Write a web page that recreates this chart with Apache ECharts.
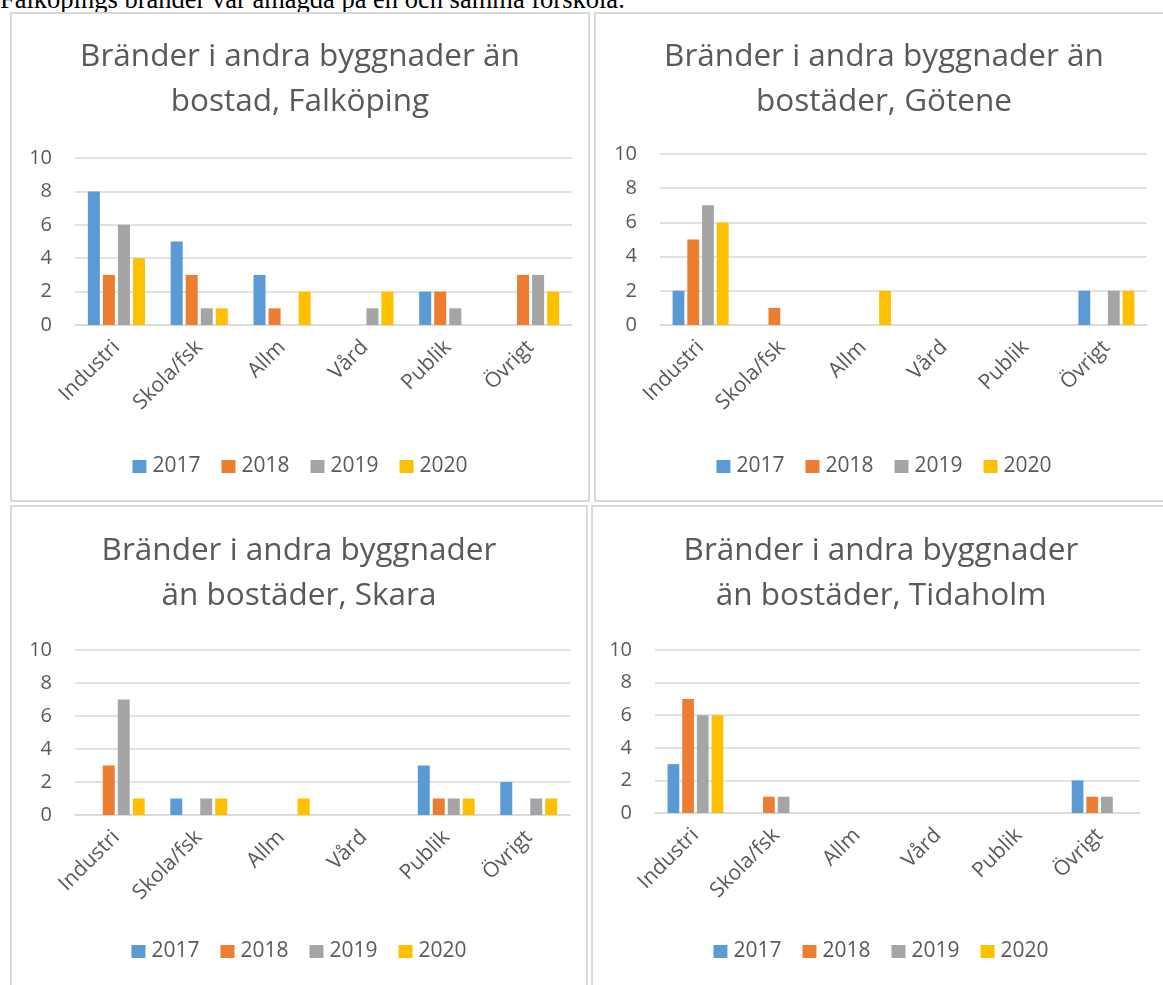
<!DOCTYPE html>
<html>
<head>
	<meta charset="utf-8">
	<title>Bränder i andra byggnader än bostäder</title>
	<script src="https://cdn.jsdelivr.net/npm/echarts@6/dist/echarts.min.js"></script>
	<style>
		body { margin: 0; background: #fff; width: 1163px; height: 985px; overflow: hidden; position: relative; }
		.intro { position: absolute; left: 0; top: -14px; font-family: "Liberation Serif", serif; font-size: 26.5px; line-height: 1; color: #000; white-space: nowrap; }
		.panel { position: absolute; border: 2px solid #d9d9d9; box-sizing: border-box; background: #fff; }
		.chart { width: 100%; height: 100%; }
	</style>
</head>
<body>
	<div class="intro">Falköpings bränder var amagda på en och samma förskola.</div>

	<div class="panel" style="left:10px;top:12px;width:580px;height:490px;"><div class="chart" id="c_falkoping"></div></div>
	<div class="panel" style="left:594px;top:12px;width:580px;height:490px;"><div class="chart" id="c_gotene"></div></div>
	<div class="panel" style="left:10px;top:505px;width:578px;height:490px;"><div class="chart" id="c_skara"></div></div>
	<div class="panel" style="left:591px;top:505px;width:580px;height:490px;"><div class="chart" id="c_tidaholm"></div></div>

	<script>
		var categories = ['Industri', 'Skola/fsk', 'Allm', 'Vård', 'Publik', 'Övrigt'];
		var years = ['2017', '2018', '2019', '2020'];
		var colors = ['#5b9bd5', '#ed7d31', '#a5a5a5', '#ffc000'];

		// en rad per år: 2017, 2018, 2019, 2020
		var falkoping = [
			[8, 5, 3, 0, 2, 0],
			[3, 3, 1, 0, 2, 3],
			[6, 1, 0, 1, 1, 3],
			[4, 1, 2, 2, 0, 2]
		];
		var gotene = [
			[2, 0, 0, 0, 0, 2],
			[5, 1, 0, 0, 0, 0],
			[7, 0, 0, 0, 0, 2],
			[6, 0, 2, 0, 0, 2]
		];
		var skara = [
			[0, 1, 0, 0, 3, 2],
			[3, 0, 0, 0, 1, 0],
			[7, 1, 0, 0, 1, 1],
			[1, 1, 1, 0, 1, 1]
		];
		var tidaholm = [
			[3, 0, 0, 0, 0, 2],
			[7, 1, 0, 0, 0, 1],
			[6, 1, 0, 0, 0, 1],
			[6, 0, 0, 0, 0, 0]
		];

		var yMin = 0, yMax = 10, yStep = 2;

		var textColor = '#595959';
		var font = 'Open Sans';

		function drawChart(id, title, values, box) {
			var chart = echarts.init(document.getElementById(id));
			var series = [];
			for (var i = 0; i < years.length; i++) {
				series.push({
					name: years[i],
					type: 'bar',
					data: values[i],
					barGap: '25%',
					barCategoryGap: '31%',
					itemStyle: { color: colors[i] }
				});
			}
			chart.setOption({
				animation: false,
				textStyle: { fontFamily: font },
				title: {
					text: title,
					left: 'center',
					top: box.titleTop,
					padding: 0,
					textStyle: { fontFamily: font, fontWeight: 'normal', fontSize: 31.5, lineHeight: 45, color: textColor }
				},
				legend: {
					data: years,
					top: box.legendTop,
					left: 'center',
					padding: 0,
					itemWidth: 14,
					itemHeight: 13,
					itemGap: 21,
					icon: 'rect',
					textStyle: { fontFamily: font, fontSize: 21, color: textColor, padding: [0, 0, 0, 1] }
				},
				grid: {
					left: box.left,
					top: box.top,
					width: box.width,
					height: box.height
				},
				xAxis: {
					type: 'category',
					data: categories,
					axisLine: { lineStyle: { color: '#d9d9d9', width: 1.5 } },
					axisTick: { show: false },
					axisLabel: { rotate: 45, margin: 19, fontSize: 21, color: textColor, fontFamily: font }
				},
				yAxis: {
					type: 'value',
					min: yMin,
					max: yMax,
					interval: yStep,
					axisLine: { show: false },
					axisTick: { show: false },
					splitLine: { lineStyle: { color: '#d9d9d9', width: 1.5 } },
					axisLabel: { margin: 23, fontSize: 20, color: textColor, fontFamily: font }
				},
				series: series
			});
		}

		drawChart('c_falkoping', 'Bränder i andra byggnader än\nbostad, Falköping', falkoping,
			{ titleTop: 21, legendTop: 442, left: 63, top: 144, width: 497, height: 167 });
		drawChart('c_gotene', 'Bränder i andra byggnader än\nbostäder, Götene', gotene,
			{ titleTop: 21, legendTop: 442, left: 64, top: 140, width: 487, height: 171 });
		drawChart('c_skara', 'Bränder i andra byggnader\nän bostäder, Skara', skara,
			{ titleTop: 22, legendTop: 434, left: 63, top: 143, width: 495, height: 165 });
		drawChart('c_tidaholm', 'Bränder i andra byggnader\nän bostäder, Tidaholm', tidaholm,
			{ titleTop: 22, legendTop: 434, left: 62, top: 143, width: 485, height: 163 });
	</script>
</body>
</html>
